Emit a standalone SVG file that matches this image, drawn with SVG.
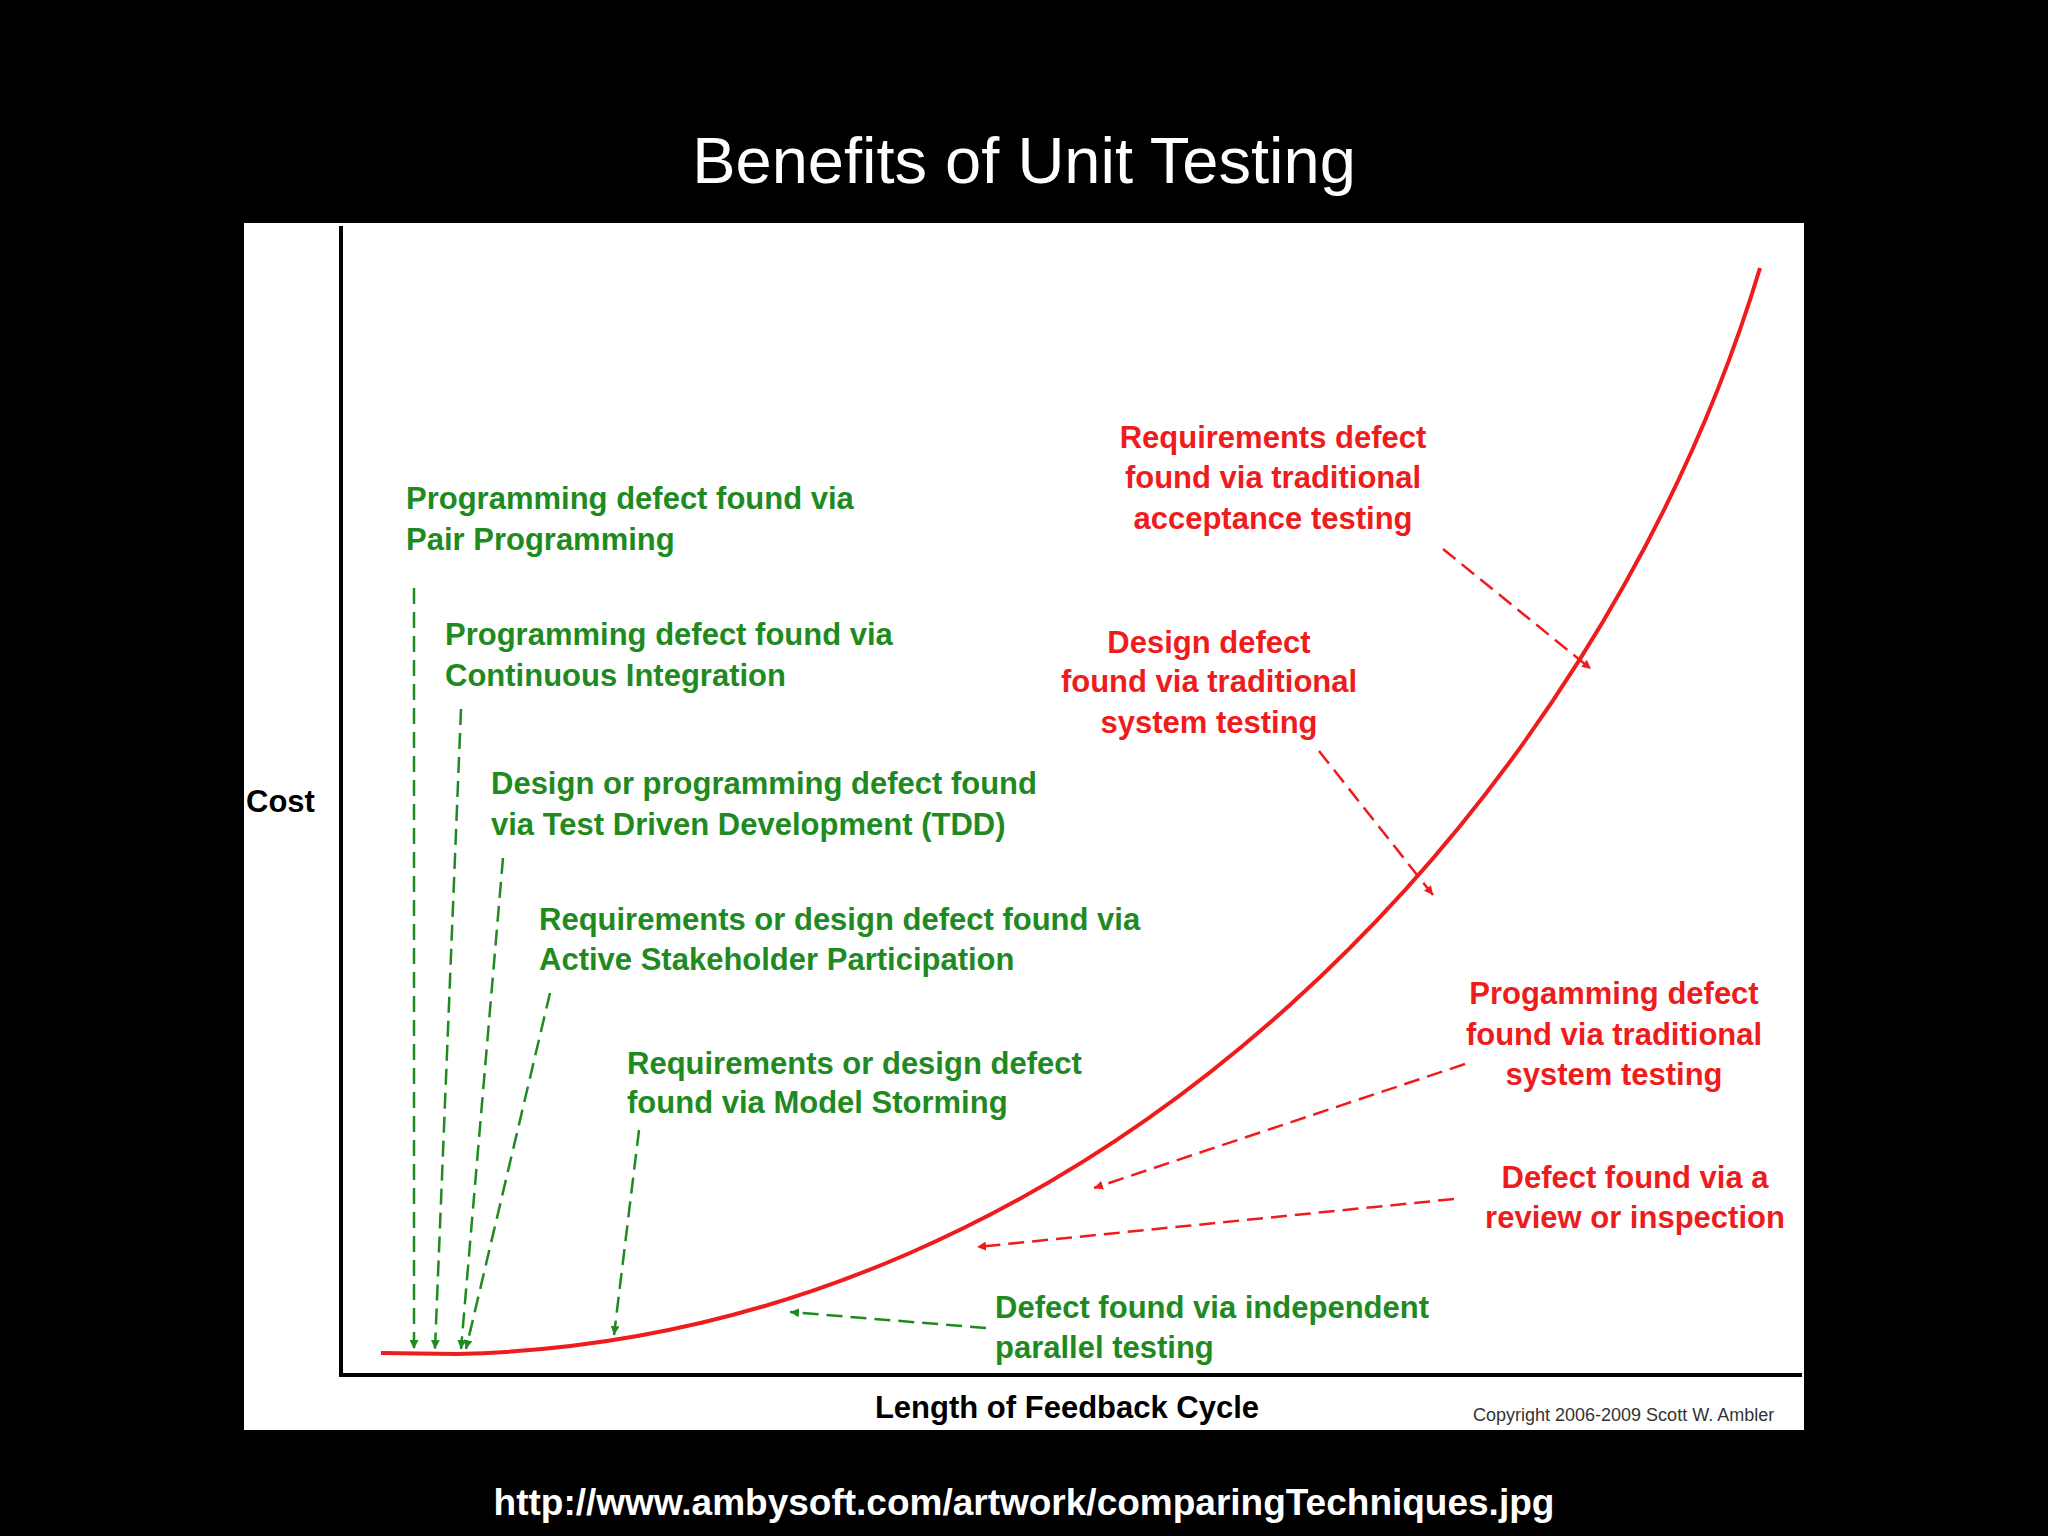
<svg xmlns="http://www.w3.org/2000/svg" width="2048" height="1536" viewBox="0 0 2048 1536">
<style>
.g{font-family:"Liberation Sans",Arial,sans-serif;font-weight:bold;font-size:31px;fill:#1f8a1f}
.r{font-family:"Liberation Sans",Arial,sans-serif;font-weight:bold;font-size:31px;fill:#ee1c1c;text-anchor:middle}
.gl{stroke:#1f8a1f;stroke-width:2.5;stroke-dasharray:16 8;fill:none;marker-end:url(#ga)}
.rl{stroke:#ee1c1c;stroke-width:2.5;stroke-dasharray:16 8;fill:none;marker-end:url(#ra)}
</style>
<defs>
<marker id="ga" viewBox="0 0 10 10" refX="10" refY="5" markerWidth="9" markerHeight="9" markerUnits="userSpaceOnUse" orient="auto"><path d="M0,0 L10,5 L0,10 z" fill="#1f8a1f"/></marker>
<marker id="ra" viewBox="0 0 10 10" refX="10" refY="5" markerWidth="9" markerHeight="9" markerUnits="userSpaceOnUse" orient="auto"><path d="M0,0 L10,5 L0,10 z" fill="#ee1c1c"/></marker>
</defs>
<rect width="2048" height="1536" fill="#000"/>
<text x="1024" y="183" font-family="Liberation Sans,Arial,sans-serif" font-size="65" fill="#fff" text-anchor="middle">Benefits of Unit Testing</text>
<rect x="244" y="223" width="1560" height="1207" fill="#fff"/>
<g id="axes" stroke="#000" stroke-width="4">
<line x1="341" y1="226" x2="341" y2="1377"/>
<line x1="339" y1="1375" x2="1802" y2="1375"/>
</g>
<text x="246" y="812" font-family="Liberation Sans,Arial,sans-serif" font-weight="bold" font-size="31">Cost</text>
<text x="1067" y="1418" font-family="Liberation Sans,Arial,sans-serif" font-weight="bold" font-size="31" text-anchor="middle">Length of Feedback Cycle</text>
<text x="1473" y="1421" font-family="Liberation Sans,Arial,sans-serif" font-size="18" fill="#333">Copyright 2006-2009 Scott W. Ambler</text>
<path id="curve" d="M381 1353 L457 1354 C1100 1340 1600 800 1760 268" stroke="#ee1c1c" stroke-width="4" fill="none"/>
<g id="connectors">
<line class="gl" x1="414" y1="588" x2="414" y2="1349"/>
<line class="gl" x1="461" y1="709" x2="435" y2="1349"/>
<line class="gl" x1="503" y1="858" x2="461" y2="1349"/>
<line class="gl" x1="550" y1="993" x2="466" y2="1349"/>
<line class="gl" x1="639" y1="1130" x2="614" y2="1335"/>
<line class="gl" x1="986" y1="1328" x2="790" y2="1312"/>
<line class="rl" x1="1443" y1="549" x2="1591" y2="669"/>
<line class="rl" x1="1319" y1="751" x2="1433" y2="895"/>
<line class="rl" x1="1465" y1="1064" x2="1094" y2="1188"/>
<line class="rl" x1="1454" y1="1199" x2="977" y2="1247"/>
</g>
<g id="n1"><text class="g" x="406" y="509">Programming defect found via</text><text class="g" x="406" y="550">Pair Programming</text></g>
<g id="n2"><text class="g" x="445" y="645">Programming defect found via</text><text class="g" x="445" y="686">Continuous Integration</text></g>
<g id="n3"><text class="g" x="491" y="794">Design or programming defect found</text><text class="g" x="491" y="835">via Test Driven Development (TDD)</text></g>
<g id="n4"><text class="g" x="539" y="930">Requirements or design defect found via</text><text class="g" x="539" y="970">Active Stakeholder Participation</text></g>
<g id="n5"><text class="g" x="627" y="1074">Requirements or design defect</text><text class="g" x="627" y="1113">found via Model Storming</text></g>
<g id="n6"><text class="g" x="995" y="1318">Defect found via independent</text><text class="g" x="995" y="1358">parallel testing</text></g>
<g id="r1"><text class="r" x="1273" y="448">Requirements defect</text><text class="r" x="1273" y="488">found via traditional</text><text class="r" x="1273" y="529">acceptance testing</text></g>
<g id="r2"><text class="r" x="1209" y="653">Design defect</text><text class="r" x="1209" y="692">found via traditional</text><text class="r" x="1209" y="733">system testing</text></g>
<g id="r3"><text class="r" x="1614" y="1004">Progamming defect</text><text class="r" x="1614" y="1045">found via traditional</text><text class="r" x="1614" y="1085">system testing</text></g>
<g id="r4"><text class="r" x="1635" y="1188">Defect found via a</text><text class="r" x="1635" y="1228">review or inspection</text></g>
<text x="1024" y="1515" font-family="Liberation Sans,Arial,sans-serif" font-weight="bold" font-size="37" fill="#fff" text-anchor="middle">http://www.ambysoft.com/artwork/comparingTechniques.jpg</text>
</svg>
